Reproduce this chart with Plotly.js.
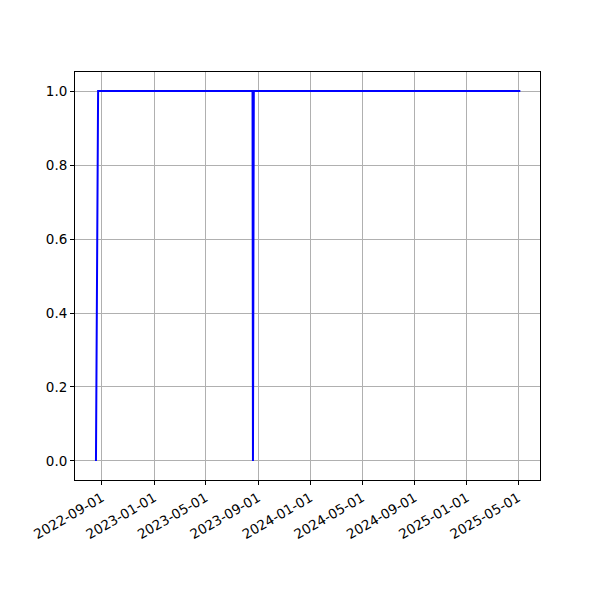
<!DOCTYPE html>
<html>
<head>
<meta charset="utf-8">
<script src="https://cdn.plot.ly/plotly-3.0.1.min.js"></script>
<style>html,body{margin:0;padding:0;background:#fff;}</style>
</head>
<body>
<div id="chart" style="width:600px;height:600px;"></div>
<script>
const dates = ["2022-08-18", "2022-08-23", "2023-08-19", "2023-08-20", "2023-08-22", "2025-05-06"];
const values = [0, 1, 1, 0, 1, 1];
const tickDates = ["2022-09-01", "2023-01-01", "2023-05-01", "2023-09-01", "2024-01-01", "2024-05-01", "2024-09-01", "2025-01-01", "2025-05-01"];
const yTicks = [0.0, 0.2, 0.4, 0.6, 0.8, 1.0];

const trace = {
  x: dates, y: values, type: "scatter", mode: "lines",
  line: {color: "#0000ff", width: 2}, hoverinfo: "none"
};
const font = {family: "DejaVu Sans, sans-serif", size: 13.5, color: "#000"};
const layout = {
  width: 600, height: 600,
  margin: {l: 75, r: 60, t: 72, b: 120, pad: 0},
  paper_bgcolor: "#fff", plot_bgcolor: "#fff",
  showlegend: false,
  font: font,
  xaxis: {
    type: "date",
    range: ["2022-06-30", "2025-06-21"],
    tickvals: tickDates,
    ticktext: tickDates,
    tickangle: -30,
    ticks: "outside", ticklen: 4, tickwidth: 1, tickcolor: "#000",
    showgrid: true, gridcolor: "#b0b0b0", gridwidth: 1,
    showline: true, linecolor: "#000", linewidth: 1, mirror: true,
    zeroline: false, tickfont: font
  },
  yaxis: {
    range: [-0.0514, 1.0514],
    tickvals: yTicks,
    ticktext: yTicks.map(v => v.toFixed(1)),
    ticks: "outside", ticklen: 4, tickwidth: 1, tickcolor: "#000",
    showgrid: true, gridcolor: "#b0b0b0", gridwidth: 1,
    showline: true, linecolor: "#000", linewidth: 1, mirror: true,
    zeroline: false, tickfont: font
  }
};
Plotly.newPlot("chart", [trace], layout, {staticPlot: true, displayModeBar: false});
</script>
</body>
</html>
